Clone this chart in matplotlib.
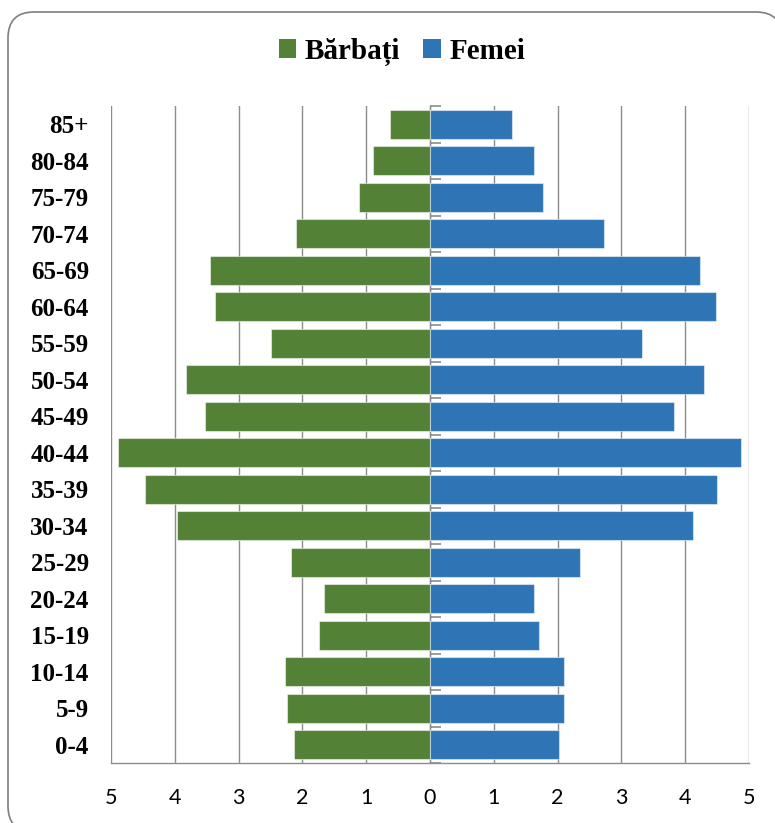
import matplotlib
matplotlib.use("Agg")
import matplotlib.pyplot as plt
from matplotlib.patches import Patch, FancyBboxPatch
import numpy as np

# ---- data ----
age_groups = ["0-4", "5-9", "10-14", "15-19", "20-24", "25-29", "30-34", "35-39",
              "40-44", "45-49", "50-54", "55-59", "60-64", "65-69", "70-74",
              "75-79", "80-84", "85+"]
barbati = [2.13, 2.24, 2.28, 1.74, 1.66, 2.18, 3.97, 4.46, 4.89, 3.52, 3.82,
           2.50, 3.37, 3.45, 2.10, 1.11, 0.90, 0.63]
femei = [2.02, 2.10, 2.10, 1.71, 1.63, 2.35, 4.12, 4.50, 4.87, 3.83, 4.30,
         3.32, 4.49, 4.23, 2.73, 1.77, 1.63, 1.29]
x_ticks = [-5, -4, -3, -2, -1, 0, 1, 2, 3, 4, 5]
x_tick_labels = [str(abs(v)) for v in x_ticks]
series_names = ["Bărbați", "Femei"]

GREEN = "#538135"
BLUE = "#2E75B6"
GRID = "#8c8c8c"

W, H = 775, 823
fig = plt.figure(figsize=(W / 100, H / 100), dpi=100)

# background axes in pixel units for the rounded chart frame
bg = fig.add_axes([0, 0, 1, 1], zorder=-5)
bg.set_xlim(0, W)
bg.set_ylim(H, 0)
bg.axis("off")
frame = FancyBboxPatch((8, 12), 782 - 8, 832 - 12,
                       boxstyle="round,pad=0,rounding_size=26",
                       facecolor="white", edgecolor="#7f7f7f", linewidth=1.2,
                       clip_on=False)
bg.add_patch(frame)

ax = fig.add_axes([111 / W, 60 / H, 638 / W, 657 / H])
ax.set_facecolor("none")

y = np.arange(len(age_groups))
ax.barh(y, [-v for v in barbati], height=0.8, color=GREEN,
        edgecolor=(1, 1, 1, 0.5), linewidth=0.8, zorder=3)
ax.barh(y, femei, height=0.8, color=BLUE,
        edgecolor=(1, 1, 1, 0.5), linewidth=0.8, zorder=3)

ax.set_xlim(-5, 5)
ax.set_ylim(-0.5, len(age_groups) - 0.5)

ax.set_xticks(x_ticks)
ax.set_xticklabels(x_tick_labels, fontfamily="Lato", fontsize=15.5, color="#000000")
ax.tick_params(axis="x", length=0, pad=18)
ax.xaxis.grid(True, color=GRID, linewidth=1.0, zorder=0)
ax.set_axisbelow(True)

ax.set_yticks(y)
ax.set_yticklabels(age_groups, fontfamily="Liberation Serif", fontweight="bold",
                   fontsize=18)
ax.tick_params(axis="y", length=0, pad=16)

for s in ["top", "right", "left"]:
    ax.spines[s].set_visible(False)
ax.spines["bottom"].set_color(GRID)
ax.spines["bottom"].set_linewidth(1.0)

# zero axis with category boundary ticks
sec = ax.secondary_yaxis(0.5)
sec.set_yticks(np.arange(len(age_groups) + 1) - 0.5)
sec.set_yticklabels([])
sec.tick_params(axis="y", length=8, width=1.2, color=GRID, direction="out")
sec.spines["left"].set_color(GRID)
sec.spines["left"].set_linewidth(1.2)

handles = [Patch(facecolor=GREEN, edgecolor="none"), Patch(facecolor=BLUE, edgecolor="none")]
fig.legend(handles, series_names, loc="center", bbox_to_anchor=(402 / W, 1 - 52 / H),
           ncol=2, frameon=False,
           prop={"family": "Liberation Serif", "weight": "bold", "size": 21},
           handlelength=0.6, handleheight=0.6, handletextpad=0.3, columnspacing=0.8)

fig.savefig("out.png", dpi=100)
